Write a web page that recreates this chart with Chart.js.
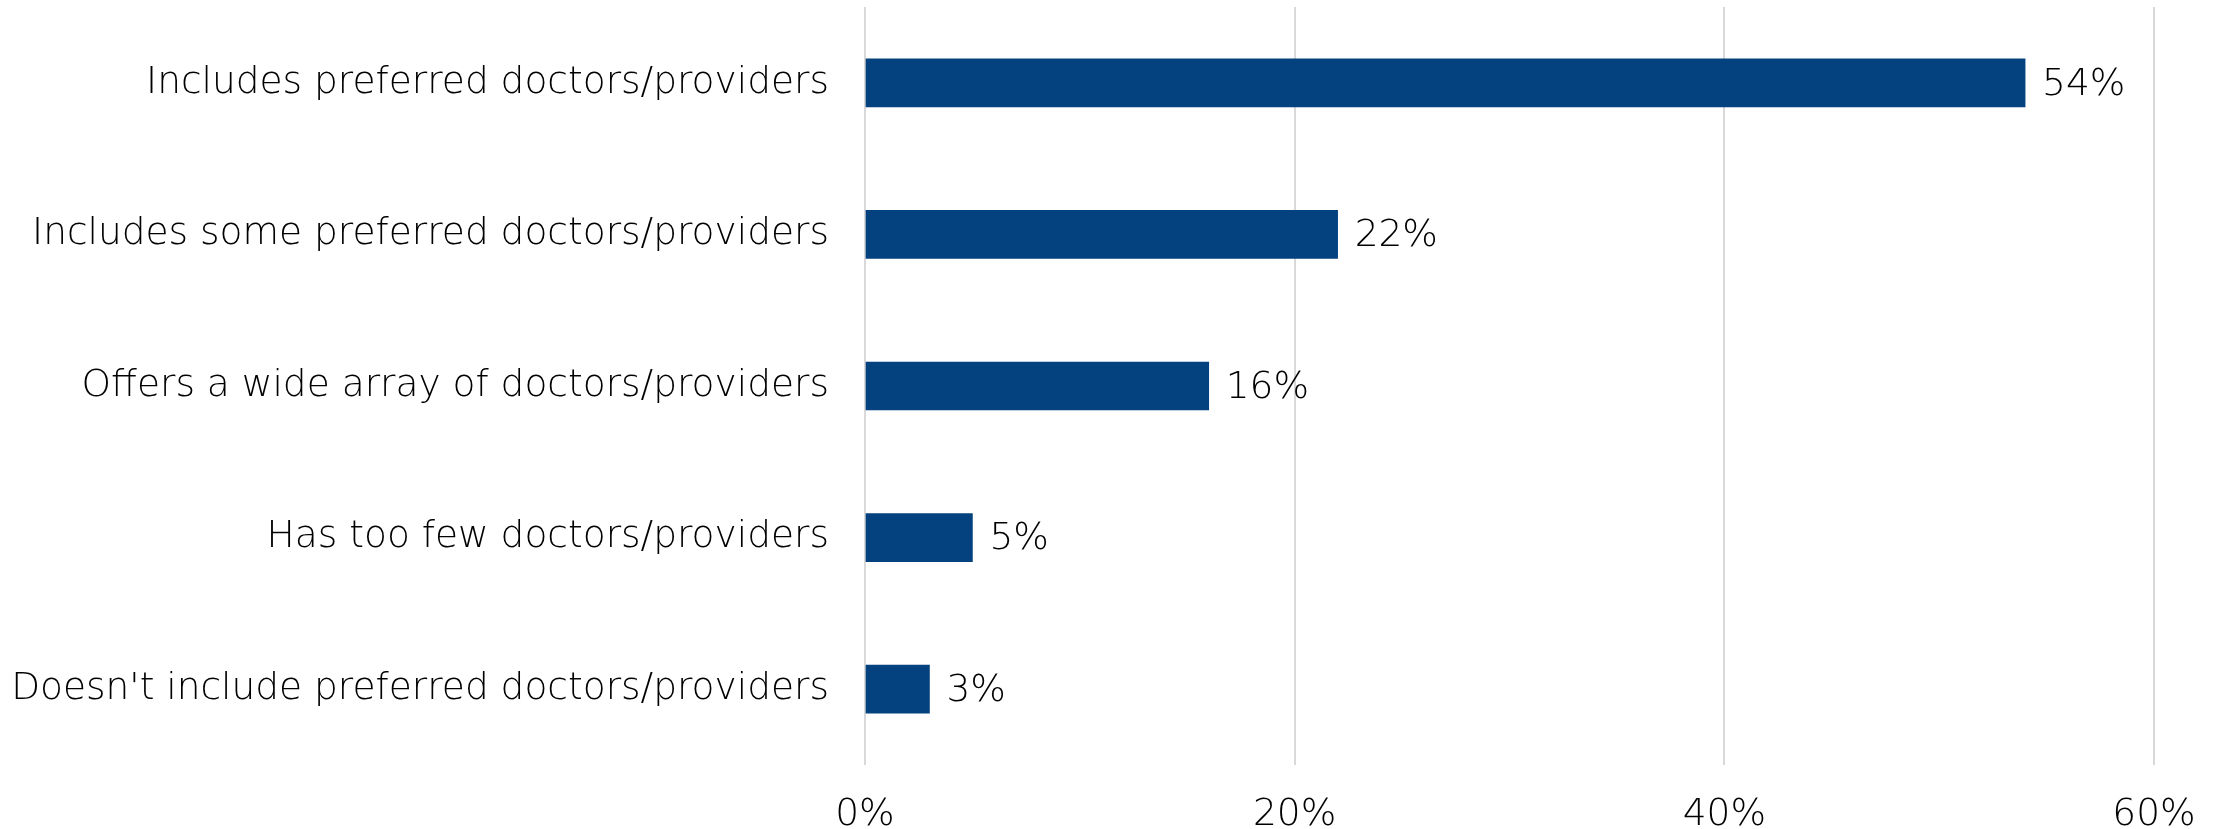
<!DOCTYPE html>
<html>
<head>
<meta charset="utf-8">
<script src="https://cdn.jsdelivr.net/npm/chart.js@4/dist/chart.umd.min.js"></script>
<style>
  body { margin: 0; background: #fff; }
</style>
</head>
<body>
<canvas id="myChart" width="2219" height="829"></canvas>
<script>
const categories = [
  'Includes preferred doctors/providers',
  'Includes some preferred doctors/providers',
  'Offers a wide array of doctors/providers',
  'Has too few doctors/providers',
  "Doesn't include preferred doctors/providers"
];
const values = [54, 22, 16, 5, 3];
const xTicks = [0, 20, 40, 60];

const FONT = '"DejaVu Sans", sans-serif';
const SIZE = 37.5;

// value labels at the end of each bar
const barLabels = {
  id: 'barLabels',
  afterDatasetsDraw(chart) {
    const ctx = chart.ctx;
    const meta = chart.getDatasetMeta(0);
    ctx.save();
    ctx.font = '300 ' + SIZE + 'px ' + FONT;
    ctx.fillStyle = '#000';
    ctx.textAlign = 'left';
    ctx.textBaseline = 'middle';
    meta.data.forEach((bar, i) => {
      ctx.fillText(values[i] + '%', bar.x + 17, bar.y + 2);
    });
    ctx.restore();
  }
};

const chart1 = document.getElementById('myChart').getContext('2d');
new Chart(chart1, {
  type: 'bar',
  data: {
    labels: categories,
    datasets: [{
      data: values,
      backgroundColor: '#03427F',
      barThickness: 48
    }]
  },
  options: {
    indexAxis: 'y',
    responsive: false,
    animation: false,
    layout: { padding: { top: 7, right: 65, left: 0, bottom: 0 } },
    plugins: {
      legend: { display: false },
      tooltip: { enabled: false }
    },
    scales: {
      x: {
        min: 0,
        max: 60,
        afterBuildTicks(scale) {
          scale.ticks = xTicks.map(v => ({ value: v }));
        },
        afterFit(scale) {
          scale.height = 64;
          scale.paddingLeft = 0;
          scale.paddingRight = 0;
        },
        grid: { color: '#d9d9d9', lineWidth: 2, drawTicks: false },
        border: { display: false },
        ticks: {
          padding: 28,
          color: '#000',
          font: { family: FONT, size: SIZE, weight: '300' },
          callback: v => v + '%'
        }
      },
      y: {
        afterFit(scale) {
          scale.width = 865;
          scale.paddingTop = 0;
          scale.paddingBottom = 0;
        },
        grid: { display: false, drawTicks: false },
        border: { display: false },
        ticks: {
          padding: 36,
          color: '#000',
          font: { family: FONT, size: SIZE, weight: '300' }
        }
      }
    }
  },
  plugins: [barLabels]
});
</script>
</body>
</html>
